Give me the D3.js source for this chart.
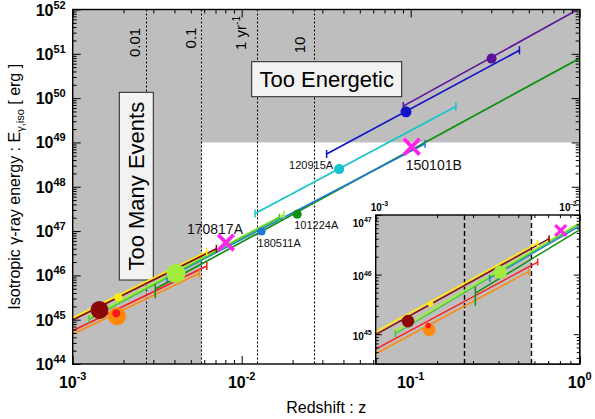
<!DOCTYPE html>
<html>
<head>
<meta charset="utf-8">
<script src="https://cdn.jsdelivr.net/npm/d3@7"></script>
<style>
  html, body { margin: 0; padding: 0; background: #fff; }
  svg { display: block; font-family: "Liberation Sans", Arial, Helvetica, sans-serif; }
</style>
</head>
<body>
<svg id="chart" width="595" height="419"></svg>
<script>
// ---- data ----
const SERIES = ["indigo", "blue", "120915A", "101224A", "180511A", "lime", "green", "yellow", "maroon", "red", "orange"];
const Z_START = [0.0904, 0.0318, 0.0120, 0.00308, 0.00362, 0.00125, 0.00125, 0.001, 0.001, 0.001, 0.001];
const E_START = [6.6e49, 5.5e48, 2.5e47, 4.9e45, 8.7e45, 1.12e45, 1.02e45, 1.10e45, 9.8e44, 5.6e44, 4.7e44];
const Z_END = [1.0, 0.44, 0.185, 1.0, 0.1216, 0.0178, 0.0167, 0.00621, 0.00708, 0.00622, 0.00562];
const E_END = [1.05e52, 1.2e51, 6.5e49, 7.9e50, 9.3e48, 2.35e47, 2.0e47, 3.4e46, 4.0e46, 1.62e46, 1.12e46];
const Z_DOT = [0.301, 0.0938, 0.0377, 0.0213, 0.0131, 0.00408, null, 0.00186, 0.00144, 0.00181, 0.00183];
const E_DOT = [7.8e50, 4.9e49, 2.5e48, 2.4e47, 9.8e46, 1.1e46, null, 3.2e45, 1.66e45, 1.40e45, 1.19e45];

// vertical error bar at the start of 101224A
const BAR_ID = ["101224A"];
const BAR_Z = [0.00308];
const BAR_LO = [3.0e45];
const BAR_HI = [6.3e45];

// magenta crosses
const CROSS_NAMES = ["170817A", "150101B"];
const CROSS_Z = [0.00807, 0.1015];
const CROSS_E = [5.5e46, 8.0e48];

// event-rate lines [yr^-1]
const RATE_Z = [0.00272, 0.00577, 0.01236, 0.0268];
const RATE_TEXT = ["0.01", "0.1", "1 yr", "10"];
const RATE_SUP = ["", "", "-1", ""];

const Z_LIMIT = 0.00577; // "Too Many Events" boundary
const E_LIMIT = 1e49;    // "Too Energetic" boundary

const X_DECADES = [-3, -2, -1, 0];
const Y_DECADES = [44, 45, 46, 47, 48, 49, 50, 51, 52];
const INSET_X_DECADES = [-3, -2];
const INSET_Y_DECADES = [45, 46, 47];

// ---- styles / layout ----
const GRAY = "#bebebe";
const MAGENTA = "#ff22ee";
const STYLE = {
  indigo:    { color: "#5a1499", r: 5,   w: 1.7, capStart: true,  capEnd: false },
  blue:      { color: "#1212c8", r: 5.5, w: 1.7, capStart: true,  capEnd: true },
  "120915A": { color: "#14c4cc", r: 5,   w: 1.7, capStart: true,  capEnd: true },
  "101224A": { color: "#109010", r: 4.5, w: 1.7, capStart: false, capEnd: false },
  "180511A": { color: "#2277d4", r: 4,   w: 1.7, capStart: true,  capEnd: true },
  lime:      { color: "#a4ec3c", r: 9.5, w: 2.2, capStart: true,  capEnd: true },
  green:     { color: "#3cc83c", r: 0,   w: 1.5, capStart: true,  capEnd: true },
  yellow:    { color: "#ffec10", r: 4,   w: 1.8, capStart: false, capEnd: true },
  maroon:    { color: "#8c0606", r: 9,   w: 1.7, capStart: false, capEnd: true },
  red:       { color: "#ff1a1a", r: 4,   w: 1.7, capStart: false, capEnd: true },
  orange:    { color: "#ff8a0a", r: 9,   w: 1.7, capStart: false, capEnd: true },
};
const LABEL_POS = {
  "120915A": { dx: -6, dy: 0,    anchor: "end",    size: 11 },
  "101224A": { dx: -3, dy: 15,   anchor: "start",  size: 11 },
  "180511A": { dx: -4, dy: 15.5, anchor: "start",  size: 11 },
  "170817A": { dx: -11, dy: -8.5, anchor: "middle", size: 14 },
  "150101B": { dx: 22, dy: 23.5, anchor: "middle", size: 14 },
};
const RATE_LAYOUT = [
  { dx: -6, cy: 42.5 },
  { dx: -5, cy: 38 },
  { dx: -11, cy: 33 },
  { dx: -9, cy: 45 },
];

const M = { left: 72.7, right: 579.7, top: 9.5, bottom: 364 };
const IN = { left: 375.7, right: 579.7, top: 215, bottom: 364 };

const x = d3.scaleLog().domain([1e-3, 1]).range([M.left, M.right]);
const y = d3.scaleLog().domain([1e44, 1e52]).range([M.bottom, M.top]);
const xi = d3.scaleLog().domain([1e-3, 1e-2]).range([IN.left, IN.right]);
const yi = d3.scaleLog().domain([Math.pow(10, 44.5), 1e47]).range([IN.bottom, IN.top]);

const rows = SERIES.map((id, i) => ({
  id, z0: Z_START[i], e0: E_START[i], z1: Z_END[i], e1: E_END[i],
  zd: Z_DOT[i], ed: E_DOT[i], ...STYLE[id],
}));
const bars = BAR_ID.map((id, i) => ({ id, z: BAR_Z[i], lo: BAR_LO[i], hi: BAR_HI[i], color: STYLE[id].color }));
const crosses = CROSS_NAMES.map((name, i) => ({ name, z: CROSS_Z[i], e: CROSS_E[i] }));

const svg = d3.select("#chart");
svg.append("rect").attr("width", 595).attr("height", 419).attr("fill", "#fff");

const defs = svg.append("defs");
defs.append("clipPath").attr("id", "clip-main").append("rect")
  .attr("x", M.left).attr("y", M.top).attr("width", M.right - M.left).attr("height", M.bottom - M.top);
defs.append("clipPath").attr("id", "clip-inset").append("rect")
  .attr("x", IN.left).attr("y", IN.top).attr("width", IN.right - IN.left).attr("height", IN.bottom - IN.top);

const crisp = (v) => Math.round(v) + 0.5;

function powText(g, px, py, exp, opts) {
  const t = g.append("text").attr("x", px).attr("y", py)
    .attr("text-anchor", opts.anchor).attr("font-size", opts.size)
    .attr("font-weight", "bold").attr("fill", "#000");
  t.append("tspan").text("10");
  t.append("tspan").attr("dy", -opts.rise).attr("font-size", opts.sup).text(String(exp));
  return t;
}

function drawRegions(g, xs, ys, dash, dashW) {
  const [xl, xr] = xs.range();
  const [yb, yt] = ys.range();
  g.append("rect").attr("x", xl).attr("y", yt).attr("width", xs(Z_LIMIT) - xl).attr("height", yb - yt).attr("fill", GRAY);
  g.append("rect").attr("x", xs(Z_LIMIT)).attr("y", yt).attr("width", xr - xs(Z_LIMIT))
    .attr("height", Math.max(0, ys(E_LIMIT) - yt)).attr("fill", GRAY);
  g.selectAll(".rate").data(RATE_Z.filter((z) => z < xs.domain()[1])).join("line")
    .attr("x1", (z) => crisp(xs(z))).attr("x2", (z) => crisp(xs(z)))
    .attr("y1", yt).attr("y2", yb)
    .attr("stroke", "#000").attr("stroke-width", dashW).attr("stroke-dasharray", dash);
}

function drawSeries(g, xs, ys, k, capH) {
  g.selectAll(".seg").data(rows).join("line")
    .attr("x1", (d) => xs(d.z0)).attr("y1", (d) => ys(d.e0))
    .attr("x2", (d) => xs(d.z1)).attr("y2", (d) => ys(d.e1))
    .attr("stroke", (d) => d.color).attr("stroke-width", (d) => d.w * (k < 1 ? 0.85 : 1));

  const caps = [];
  rows.forEach((d) => {
    if (d.capStart) caps.push({ z: d.z0, e: d.e0, color: d.color });
    if (d.capEnd) caps.push({ z: d.z1, e: d.e1, color: d.color });
  });
  g.selectAll(".cap").data(caps).join("line")
    .attr("x1", (d) => xs(d.z)).attr("x2", (d) => xs(d.z))
    .attr("y1", (d) => ys(d.e) - capH).attr("y2", (d) => ys(d.e) + capH)
    .attr("stroke", (d) => d.color).attr("stroke-width", 1.5);

  g.selectAll(".bar").data(bars).join("line")
    .attr("x1", (d) => xs(d.z)).attr("x2", (d) => xs(d.z))
    .attr("y1", (d) => ys(d.hi)).attr("y2", (d) => ys(d.lo))
    .attr("stroke", (d) => d.color).attr("stroke-width", 1.5);

  const dots = rows.filter((d) => d.zd != null && d.r > 0).sort((a, b) => b.r - a.r);
  g.selectAll(".dot").data(dots).join("circle")
    .attr("cx", (d) => xs(d.zd)).attr("cy", (d) => ys(d.ed)).attr("r", (d) => d.r * k)
    .attr("fill", (d) => d.color);

  const s = 7.8 * k;
  g.selectAll(".cross").data(crosses).join("path")
    .attr("transform", (d) => `translate(${xs(d.z)},${ys(d.e)})`)
    .attr("d", `M${-s},${-s}L${s},${s}M${-s},${s}L${s},${-s}`)
    .attr("stroke", MAGENTA).attr("stroke-width", 3.8 * Math.sqrt(k)).attr("fill", "none");
}

function drawTicks(xs, ys, big, small) {
  const [xl, xr] = xs.range();
  const [yb, yt] = ys.range();
  const isMajor = (v) => Math.abs(Math.log10(v) - Math.round(Math.log10(v))) < 1e-6;
  const xt = xs.ticks();
  const yt2 = ys.ticks();
  const put = (axisFn, sc, vals, len, tr) => {
    svg.append("g").attr("transform", tr)
      .call(axisFn(sc).tickValues(vals).tickSize(-len).tickSizeOuter(0).tickFormat(""))
      .call((g) => g.select(".domain").remove())
      .call((g) => g.selectAll("line").attr("stroke", "#000").attr("stroke-width", 1));
  };
  [[xt.filter(isMajor), big], [xt.filter((v) => !isMajor(v)), small]].forEach(([vals, len]) => {
    put(d3.axisBottom, xs, vals, len, `translate(0,${yb})`);
    put(d3.axisTop, xs, vals, len, `translate(0,${yt})`);
  });
  [[yt2.filter(isMajor), big], [yt2.filter((v) => !isMajor(v)), small]].forEach(([vals, len]) => {
    put(d3.axisLeft, ys, vals, len, `translate(${xl},0)`);
    put(d3.axisRight, ys, vals, len, `translate(${xr},0)`);
  });
  svg.append("rect").attr("x", xl).attr("y", yt).attr("width", xr - xl).attr("height", yb - yt)
    .attr("fill", "none").attr("stroke", "#000").attr("stroke-width", 1.4);
}

// ---- main panel ----
const gMain = svg.append("g").attr("clip-path", "url(#clip-main)");
drawRegions(gMain, x, y, "2,2", 1.1);

// rate labels
const gRate = svg.append("g");
RATE_Z.forEach((z, i) => {
  const lay = RATE_LAYOUT[i];
  const t = gRate.append("text")
    .attr("transform", `translate(${x(z) + lay.dx},${lay.cy}) rotate(-90)`)
    .attr("text-anchor", "middle").attr("font-size", 15).attr("fill", "#000");
  t.append("tspan").text(RATE_TEXT[i]);
  if (RATE_SUP[i]) t.append("tspan").attr("dy", -6).attr("font-size", 10).text(RATE_SUP[i]);
});

// region boxes
svg.append("rect").attr("x", 251.7).attr("y", 61.7).attr("width", 150).attr("height", 35)
  .attr("fill", "#f2f2f2").attr("stroke", "#222").attr("stroke-width", 1);
svg.append("text").attr("x", 326.7).attr("y", 87).attr("text-anchor", "middle")
  .attr("font-size", 22).attr("fill", "#000").text("Too Energetic");
svg.append("rect").attr("x", 119.3).attr("y", 92.3).attr("width", 34).attr("height", 187.7)
  .attr("fill", "#f2f2f2").attr("stroke", "#222").attr("stroke-width", 1);
svg.append("text").attr("transform", "translate(144.3,186.2) rotate(-90)").attr("text-anchor", "middle")
  .attr("font-size", 22).attr("fill", "#000").text("Too Many Events");

const gData = svg.append("g").attr("clip-path", "url(#clip-main)");
drawSeries(gData, x, y, 1, 4);

// name labels
const labelled = [
  ...rows.filter((d) => LABEL_POS[d.id]).map((d) => ({ name: d.id, px: x(d.zd), py: y(d.ed) })),
  ...crosses.map((d) => ({ name: d.name, px: x(d.z), py: y(d.e) })),
];
svg.selectAll(".name").data(labelled).join("text")
  .attr("x", (d) => d.px + LABEL_POS[d.name].dx)
  .attr("y", (d) => d.py + LABEL_POS[d.name].dy)
  .attr("text-anchor", (d) => LABEL_POS[d.name].anchor)
  .attr("font-size", (d) => LABEL_POS[d.name].size)
  .attr("fill", "#111")
  .text((d) => d.name);

drawTicks(x, y, 8, 4);

Y_DECADES.forEach((e) => powText(svg, M.left - 7, y(Math.pow(10, e)) + 6, e, { anchor: "end", size: 16, sup: 11, rise: 7 }));
X_DECADES.forEach((e) => powText(svg, x(Math.pow(10, e)), 388, e, { anchor: "middle", size: 16, sup: 11, rise: 8 }));

svg.append("text").attr("x", (M.left + M.right) / 2).attr("y", 413).attr("text-anchor", "middle")
  .attr("font-size", 16).attr("fill", "#000").text("Redshift : z");

const yTitle = svg.append("text")
  .attr("transform", `translate(20,${(M.top + M.bottom) / 2}) rotate(-90)`)
  .attr("text-anchor", "middle").attr("font-size", 16).attr("fill", "#000");
yTitle.append("tspan").text("Isotropic \u03b3-ray energy : E");
yTitle.append("tspan").attr("dy", 4).attr("font-size", 11).text("\u03b3,iso");
yTitle.append("tspan").attr("dy", -4).text(" [ erg ]");

// ---- inset ----
svg.append("rect").attr("x", IN.left).attr("y", IN.top).attr("width", IN.right - IN.left)
  .attr("height", IN.bottom - IN.top).attr("fill", "#fff");
const gIn = svg.append("g").attr("clip-path", "url(#clip-inset)");
drawRegions(gIn, xi, yi, "5,3", 1.4);
drawSeries(gIn, xi, yi, 0.7, 3.5);
drawTicks(xi, yi, 6, 3);

INSET_Y_DECADES.forEach((e) => powText(svg, IN.left - 4, Math.max(yi(Math.pow(10, e)) + 5.5, IN.top + 11.5), e,
  { anchor: "end", size: 10, sup: 7, rise: 4.5 }));
INSET_X_DECADES.forEach((e, i) => powText(svg, i === 0 ? xi(Math.pow(10, e)) - 5 : IN.right - 3, IN.top - 4.5, e,
  { anchor: i === 0 ? "start" : "end", size: 10, sup: 7, rise: 4.5 }));
</script>
</body>
</html>
